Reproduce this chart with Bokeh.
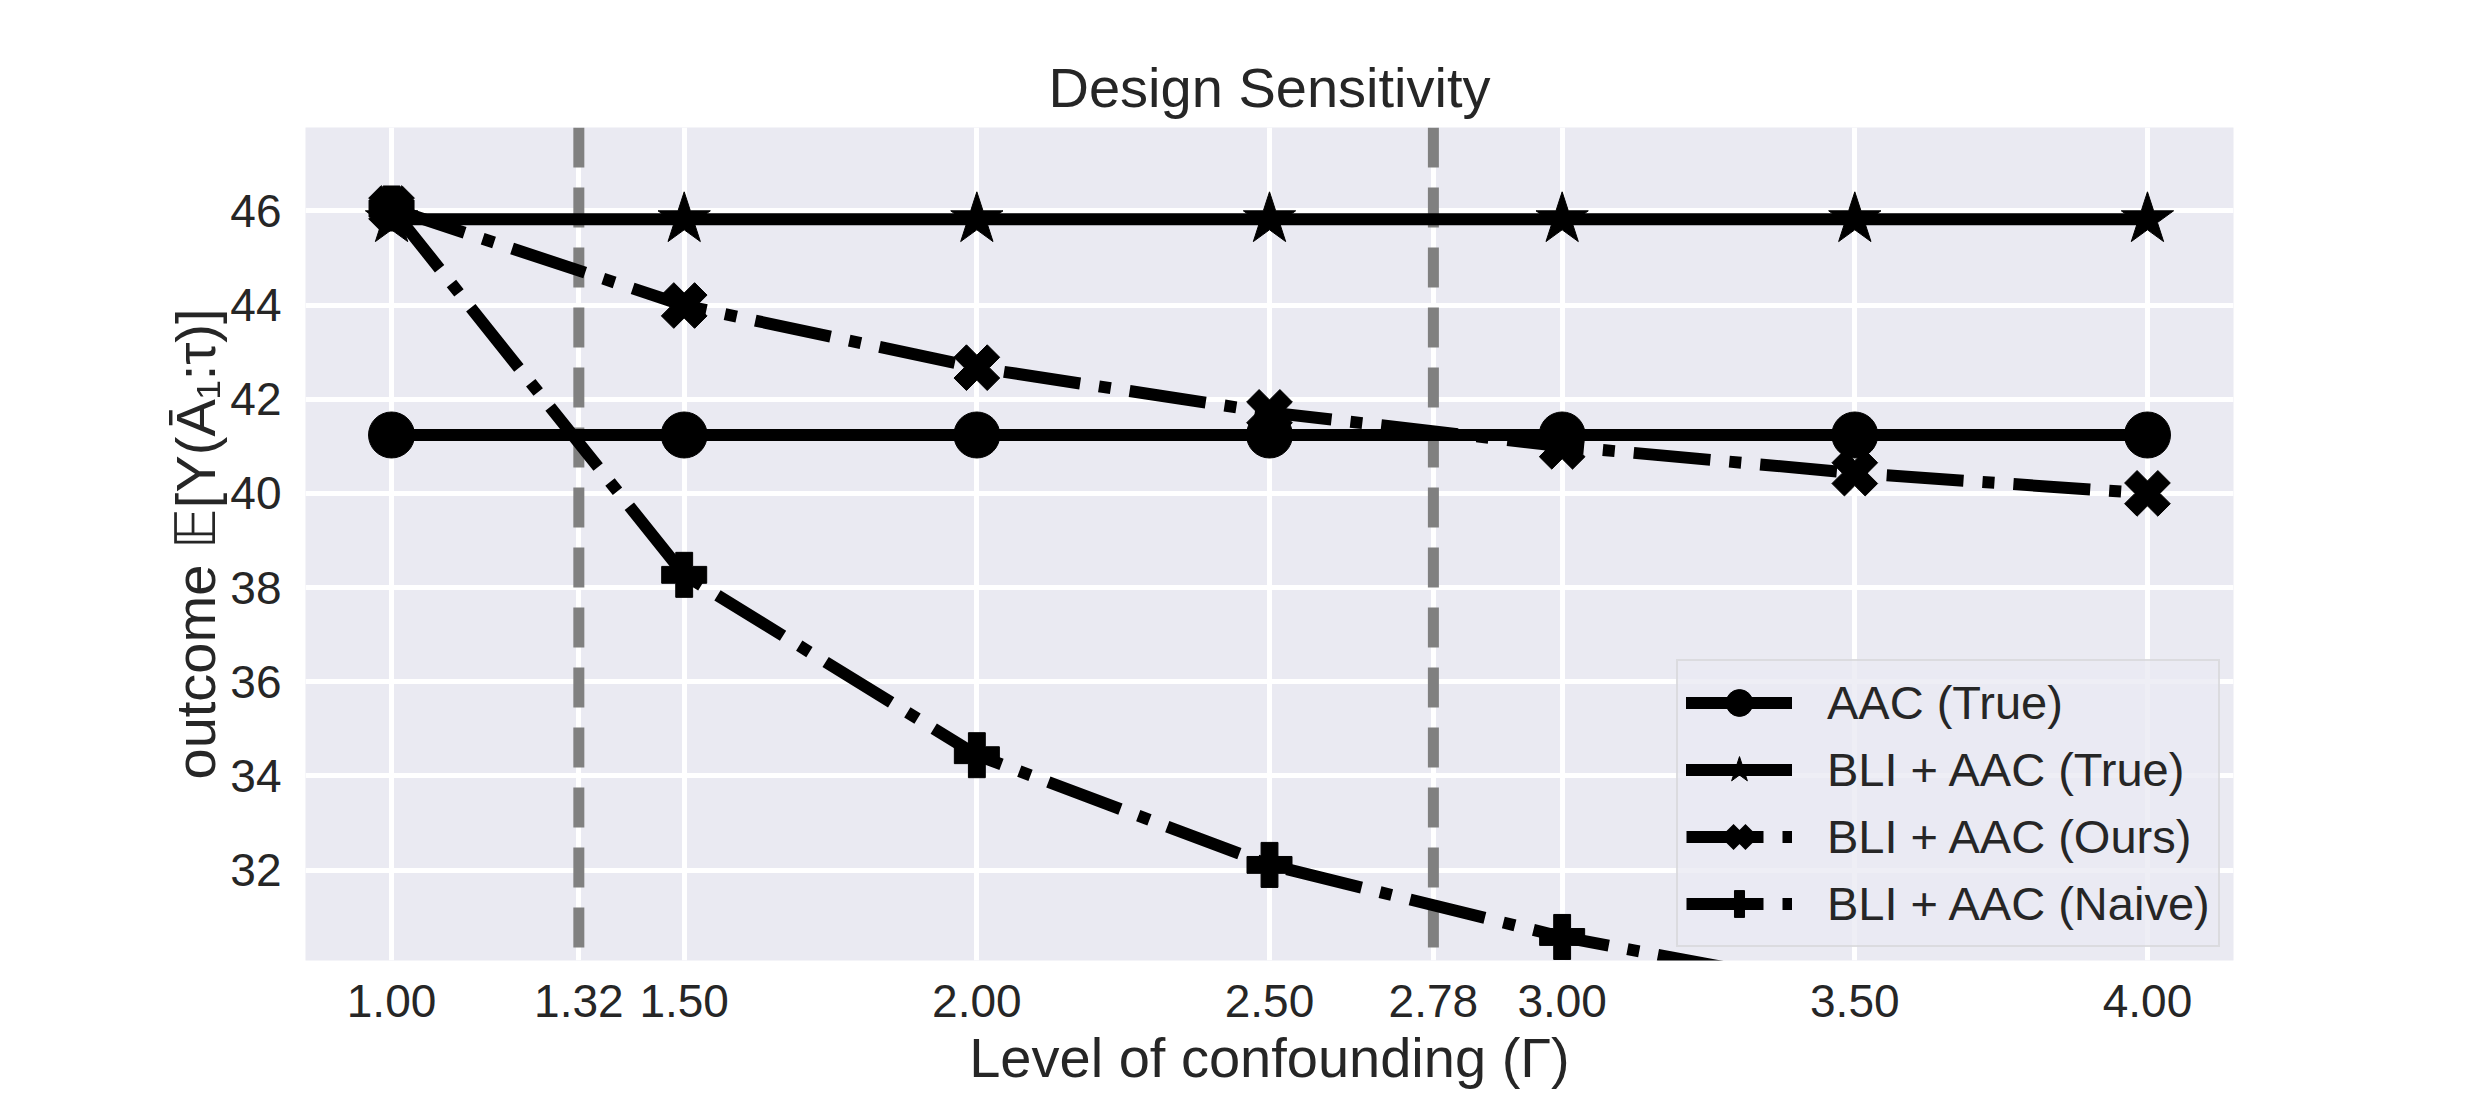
import numpy as np
from bokeh.plotting import figure
from bokeh.models import Span, Legend, LegendItem, FixedTicker, PrintfTickFormatter, Range1d
from bokeh.embed import file_html
from bokeh.resources import INLINE

# ---- data ----
gamma = [1.0, 1.5, 2.0, 2.5, 3.0, 3.5, 4.0]
aac_true = [41.24, 41.24, 41.24, 41.24, 41.24, 41.24, 41.24]
bli_aac_true = [45.82, 45.82, 45.82, 45.82, 45.82, 45.82, 45.82]
bli_aac_ours = [46.05, 43.99, 42.67, 41.72, 41.00, 40.43, 40.00]
bli_aac_naive = [46.05, 38.27, 34.44, 32.11, 30.58, 29.42, 28.55]
thresholds = [1.32, 2.78]
x_ticks = [1.0, 1.32, 1.5, 2.0, 2.5, 2.78, 3.0, 3.5, 4.0]
y_ticks = [32, 34, 36, 38, 40, 42, 44, 46]
labels = ["AAC (True)", "BLI + AAC (True)", "BLI + AAC (Ours)", "BLI + AAC (Naive)"]

FONT = "Liberation Sans"
TXT = "#262626"

p = figure(frame_width=1928, frame_height=833,
           x_range=Range1d(0.853, 4.147), y_range=Range1d(30.08, 47.77),
           output_backend="svg", toolbar_location=None,
           min_border_left=305, min_border_right=243,
           min_border_top=127, min_border_bottom=130,
           title="Design Sensitivity")

p.background_fill_color = "#EAEAF2"
p.border_fill_color = "white"
p.outline_line_color = None

p.title.text_font = FONT
p.title.text_font_size = "56px"
p.title.text_font_style = "normal"
p.title.text_color = TXT
p.title.align = "center"
p.title.standoff = 18

p.xaxis.ticker = FixedTicker(ticks=x_ticks)
p.xaxis.formatter = PrintfTickFormatter(format="%.2f")
p.yaxis.ticker = FixedTicker(ticks=y_ticks)

for ax in (p.xaxis[0], p.yaxis[0]):
    ax.axis_line_color = None
    ax.major_tick_line_color = None
    ax.minor_tick_line_color = None
    ax.major_tick_out = 0
    ax.major_tick_in = 0
    ax.major_label_text_font = FONT
    ax.major_label_text_font_size = "46px"
    ax.major_label_text_color = TXT
    ax.axis_label_text_font = FONT
    ax.axis_label_text_font_size = "56px"
    ax.axis_label_text_font_style = "normal"
    ax.axis_label_text_color = TXT

p.xaxis.major_label_standoff = 24
p.xaxis.axis_label_standoff = 6
p.yaxis.major_label_standoff = 24
p.yaxis.axis_label_standoff = 0
p.xaxis.axis_label = "Level of confounding (Γ)"
p.yaxis.axis_label = "outcome 𝔼[Y(Ā₁:τ)]"

p.grid.grid_line_color = "white"
p.grid.grid_line_width = 5
p.grid.minor_grid_line_color = None

for t in thresholds:
    p.add_layout(Span(location=t, dimension="height", line_color="#808080",
                      line_width=11, line_dash="40 20", level="underlay"))

DD = "77 19 12 19"
r1l = p.line(gamma, aac_true, line_color="black", line_width=12, line_cap="round", line_join="round")
r1s = p.scatter(gamma, aac_true, marker="circle", size=46, fill_color="black", line_color="black")
r2l = p.line(gamma, bli_aac_true, line_color="black", line_width=12, line_cap="round", line_join="round")
r2s = p.scatter(gamma, bli_aac_true, marker="star", size=55, fill_color="black", line_color="black")
r3l = p.line(gamma, bli_aac_ours, line_color="black", line_width=12, line_dash=DD)
r3s = p.scatter(gamma, bli_aac_ours, marker="plus", angle=np.pi / 4, size=47,
                fill_color="black", line_color="black")
r4l = p.line(gamma, bli_aac_naive, line_color="black", line_width=12, line_dash=DD)
r4s = p.scatter(gamma, bli_aac_naive, marker="plus", size=45, fill_color="black", line_color="black")
# legend-only proxy for the filled "X" marker (a single undrawn NaN point)
r3proxy = p.scatter(x=[np.nan], y=[np.nan], marker="x", line_color="black", line_width=10)

legend = Legend(items=[LegendItem(label=labels[0], renderers=[r1l, r1s]),
                       LegendItem(label=labels[1], renderers=[r2l, r2s]),
                       LegendItem(label=labels[2], renderers=[r3l, r3proxy]),
                       LegendItem(label=labels[3], renderers=[r4l, r4s])],
                location=(1371, 13), glyph_width=106, glyph_height=67, spacing=0,
                padding=8, margin=0, label_standoff=35,
                label_text_font=FONT, label_text_font_size="47px", label_text_color=TXT,
                background_fill_color="#EAEAF2", background_fill_alpha=0.8,
                border_line_color="#cccccc", border_line_width=2)
p.add_layout(legend)

open("out.html", "w").write(file_html(p, INLINE))
